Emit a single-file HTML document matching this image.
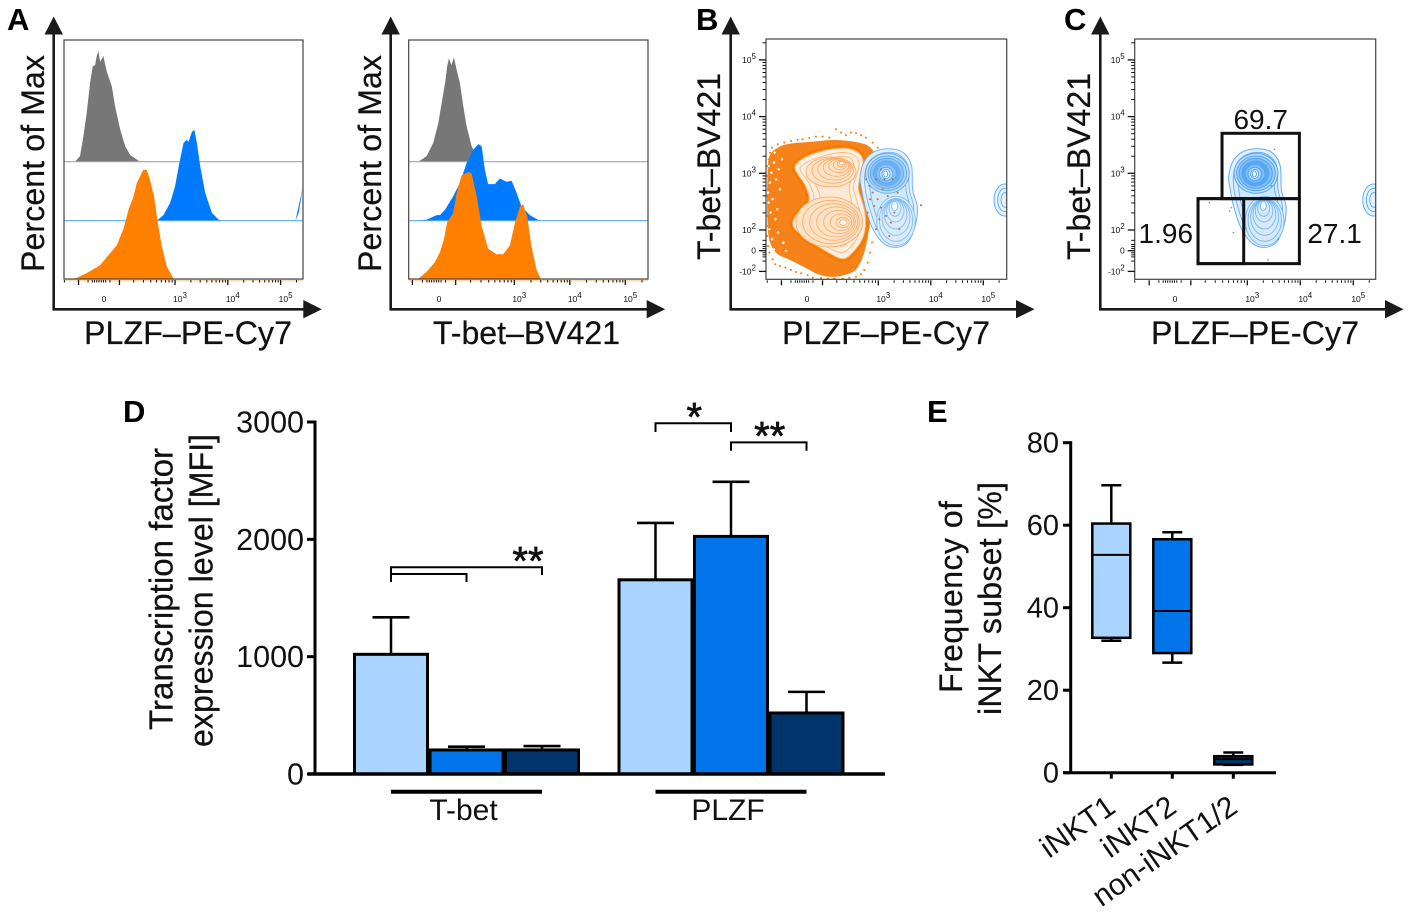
<!DOCTYPE html>
<html lang="en">
<head>
<meta charset="utf-8">
<title>iNKT transcription factor figure</title>
<style>
html,body{margin:0;padding:0;background:#fff;width:1411px;height:914px;overflow:hidden}
svg{display:block}
text{font-family:"Liberation Sans",sans-serif;fill:#111}
.title{font-size:32px;stroke:#111;stroke-width:.25px}
.title-tall{font-size:33px;stroke:#111;stroke-width:.25px}
.letter{font-size:31px;font-weight:bold;fill:#000}
</style>
</head>
<body>
<svg id="fig" xmlns="http://www.w3.org/2000/svg" width="1411" height="914" viewBox="0 0 1411 914">
<rect x="0" y="0" width="1411" height="914" fill="#fff"/>
<defs>
<clipPath id="clipB"><rect x="766" y="39" width="240.7" height="240.3"/></clipPath>
<clipPath id="clipC"><rect x="1134.7" y="39" width="241" height="240.3"/></clipPath>
<clipPath id="clipA1"><rect x="64" y="40" width="239" height="239"/></clipPath>
<clipPath id="clipA2"><rect x="408.7" y="40" width="239.3" height="239"/></clipPath>
</defs>

<g id="panelA1"></g>
<g id="panelA2"></g>
<g id="panelB"></g>
<g id="panelC"></g>
<g id="panelD"></g>
<g id="panelE"></g>

<text class="letter" x="7" y="30">A</text>
<text class="letter" x="696" y="30">B</text>
<text class="letter" x="1064" y="30">C</text>
<text class="letter" x="123" y="422">D</text>
<text class="letter" x="927" y="422">E</text>

<text class="title" transform="translate(44,272) rotate(-90)" textLength="217">Percent of Max</text>
<text class="title" transform="translate(381,272) rotate(-90)" textLength="217">Percent of Max</text>
<text class="title" transform="translate(720,260) rotate(-90)" textLength="187">T-bet–BV421</text>
<text class="title" transform="translate(1090,260) rotate(-90)" textLength="187">T-bet–BV421</text>
<text class="title" x="84" y="344" textLength="208">PLZF–PE-Cy7</text>
<text class="title" x="433" y="344" textLength="187">T-bet–BV421</text>
<text class="title" x="782" y="344" textLength="208">PLZF–PE-Cy7</text>
<text class="title" x="1151" y="344" textLength="208">PLZF–PE-Cy7</text>

<text class="title-tall" transform="translate(172.5,730) rotate(-90)" textLength="282" lengthAdjust="spacingAndGlyphs">Transcription factor</text>
<text class="title-tall" transform="translate(212.5,747) rotate(-90)" textLength="313" lengthAdjust="spacingAndGlyphs">expression level [MFI]</text>
<text class="title" transform="translate(962,693) rotate(-90)" textLength="192">Frequency of</text>
<text class="title" transform="translate(1001,715) rotate(-90)" textLength="233">iNKT subset [%]</text>
</svg>

<script>
/* ---------- Panel A histogram data: channel 0-1000, count in % of max ---------- */
var plzfGrayChannels=[46,67,81,95,109,120,130,137,144,151,165,179,200,214,235,256,277,318];
var plzfGrayCounts=[0,5,23,44,71,86,87,95,100,90,95,81,68,50,29,14,6,0];
var plzfBlueChannels=[388,416,444,465,480,500,514,521,535,545,556,570,591,619,647,668];
var plzfBlueCounts=[0,5,16,31,49,70,73,71,80,82,70,49,25,7,1,0];
var plzfBlueTailChannels=[968,982,1000];
var plzfBlueTailCounts=[0,7,31];
var plzfOrangeChannels=[46,95,151,193,221,249,270,291,304,318,332,346,360,377,391,409,430,458];
var plzfOrangeCounts=[0,5,12,23,30,45,62,74,86,92,98,98,89,74,53,29,11,0];

var tbetGrayChannels=[40,75,103,124,138,152,161,168,179,189,200,214,228,242,263,284,298];
var tbetGrayCounts=[0,5,17,35,53,71,86,93,87,94,83,71,50,32,14,5,0];
var tbetBlueChannels=[19,75,117,131,152,186,214,242,270,291,305,318,332,360,381,409,430,451,471,506,548];
var tbetBlueCounts=[0,1,5,5,10,22,34,52,64,69,67,46,33,33,38,35,36,25,13,5,0];
var tbetOrangeChannels=[40,75,110,131,147,161,186,200,221,249,263,284,305,332,367,395,423,444,465,478,495,513,534,551];
var tbetOrangeCounts=[0,6,15,24,35,51,59,77,93,96,95,74,47,27,22,22,30,50,65,67,56,29,8,0];

/* ---------- Flow-axis tick values ---------- */
var flowMajorTicksX=[-100,100,1000,10000,100000];
var flowMinorTicksX=[-200,-50,-30,-20,-10,0,10,20,30,50,200,300,400,500,600,700,800,900,2000,3000,4000,5000,6000,7000,8000,9000,20000,30000,40000,50000,60000,70000,80000,90000,200000];
var flowLabelValuesX=[0,1000,10000,100000];
var flowLabelBasesX=['0','10','10','10'];
var flowLabelExpsX=['','3','4','5'];
var flowMajorTicksY=[-100,0,100,1000,10000,100000];
var flowMinorTicksY=[-50,-30,-20,-10,10,20,30,50,200,300,400,500,600,700,800,900,2000,3000,4000,5000,6000,7000,8000,9000,20000,30000,40000,50000,60000,70000,80000,90000,200000];
var flowLabelValuesY=[100000,10000,1000,100,0,-100];
var flowLabelBasesY=['10','10','10','10','0','-10'];
var flowLabelExpsY=['5','4','3','2','','2'];

/* ---------- Panel B/C populations: channels 0-722 on both axes ---------- */
var orangeCloudX=[10,42,82,142,202,262,302,322,317,302,287,297,312,307,297,282,262,212,162,112,72,32,10,4,4];
var orangeCloudY=[368,398,408,413,418,413,403,383,358,328,278,238,188,138,88,48,23,8,13,38,58,78,118,188,288];
var orangePaleX=[87,112,162,222,262,287,290,277,287,297,297,282,247,222,182,142,107,82,87,117,130,117,97];
var orangePaleY=[338,363,383,393,388,368,338,278,238,198,148,108,68,63,83,108,133,158,188,218,243,283,313];
var orangeRing1X=[102,127,172,222,257,277,277,262,272,282,282,267,237,212,172,132,102,102,132,144,132,112];
var orangeRing1Y=[333,353,370,380,376,358,328,278,238,198,148,113,83,83,103,128,153,183,213,243,283,313];
var orangeRing2X=[122,152,192,232,257,264,250,257,267,267,252,227,197,152,122,127,157,162,147,130];
var orangeRing2Y=[333,350,363,368,360,328,278,233,188,148,118,98,113,138,158,183,213,248,288,313];
var orangeUpperCx=[195,200,205,212,218,222,226,227];
var orangeUpperCy=[322,326,330,335,340,343,346,348];
var orangeUpperRx=[75,62,50,40,30,20,12,7];
var orangeUpperRy=[45,38,32,26,20,14,9,5];
var orangeLowerCx=[190,195,203,210,218,225,230,232];
var orangeLowerCy=[172,172,172,172,172,171,170,170];
var orangeLowerRx=[100,85,72,58,45,32,20,11];
var orangeLowerRy=[75,65,55,45,35,25,15,8];
var orangeDotsX=[210,225,190,170,240,255,270,285,300,150,130,110,95,75,55,35,18,12,8,320,335,330,340,3,2,6,3,8,2,5,3,6,10,20,28,42,58,75,90,105,125,140,165,185,205,230,250,270,285,295,305,312,318,300,310,320,335,345,360,375,385,340,325,350,365,330,345,355,312,305,330,370,395,380,400,465];
var orangeDotsY=[450,440,425,428,432,440,438,432,425,428,424,420,418,415,410,405,395,380,360,410,395,375,360,340,310,270,250,220,190,160,130,100,80,60,45,40,35,28,22,18,12,5,4,2,3,2,5,8,15,28,50,80,110,300,280,260,240,215,190,170,200,180,220,270,250,300,330,300,240,200,150,130,260,300,150,222];
var speckleX=[8,16,24,12,30,6,20,38,14,28,10,42,18,34,9,24,48,14,36,22,52,46,60,8,26];
var speckleY=[340,320,350,290,300,260,240,330,200,180,150,270,120,210,100,90,360,70,140,60,110,60,85,230,380];
var blueOuterX=[282,297,332,382,417,437,440,454,447,422,382,347,317,297,287];
var blueOuterY=[308,358,386,391,376,338,268,218,158,108,96,113,158,218,268];
var blueRing2X=[296,308,338,380,410,427,430,443,437,415,382,352,327,308,298];
var blueRing2Y=[310,350,375,380,365,335,268,218,160,118,106,122,165,222,268];
var blueRing3X=[310,320,345,380,402,417,420,432,425,405,382,358,338,320,312];
var blueRing3Y=[312,345,365,370,355,330,268,215,165,128,116,132,172,225,270];
var blueUpperCx=[364,364,363,362,361,360,360,359];
var blueUpperCy=[318,318,318,318,317,316,316,316];
var blueUpperRx=[66,58,50,40,30,20,12,6];
var blueUpperRy=[60,52,45,37,28,20,14,9];
var blueLowerCx=[390,390,390,389,388,387,386];
var blueLowerCy=[175,178,186,195,205,213,220];
var blueLowerRx=[58,50,42,34,26,18,9];
var blueLowerRy=[74,64,54,44,33,24,14];
var edgeRingCx=[717,717,717];
var edgeRingCy=[238,238,238];
var edgeRingRx=[33,22,12];
var edgeRingRy=[48,35,22];
var gatedDotsX=[224,290,296,285,400,410,430,420];
var gatedDotsY=[230,215,140,205,58,280,120,390];

/* ---------- Panel C gate boundaries (channels) and frequencies ---------- */
var gateXLow=[262,190,190];
var gateXHigh=[494,327,494];
var gateYLow=[242,47,47];
var gateYHigh=[438,242,242];
var gateLabels=['69.7','1.96','27.1'];

/* ---------- Panel D bar data ---------- */
var barCategories=['T-bet','PLZF'];
var subsetColors=['#a9d4ff','#0074e8','#00346b'];
var tbetMeans=[1020,205,205];
var tbetUpper=[1335,233,238];
var plzfMeans=[1655,2025,520];
var plzfUpper=[2140,2490,700];
var barYTicks=[0,1000,2000,3000];
var sigGroup=[0,0,1,1];
var sigFrom=[0,0,0,1];
var sigTo=[1,2,1,2];
var sigLevel=[1705,1762,2989,2826];
var sigDropLeft=[1636,1636,2915,2755];
var sigDropRight=[1636,1696,2915,2755];
var sigLabels=['','**','*','**'];

/* ---------- Panel E box data ---------- */
var boxCategories=['iNKT1','iNKT2','non-iNKT1/2'];
var boxMin=[32,26.7,1.9];
var boxQ1=[32.7,29,2];
var boxMedian=[52.8,39.2,3.3];
var boxQ3=[60.4,56.6,4];
var boxMax=[69.7,58.3,4.9];
var boxColors=['#a9d4ff','#0074e8','#00346b'];
var boxYTicks=[0,20,40,60,80];

/* ---------- helpers ---------- */
var NS='http://www.w3.org/2000/svg';
function mk(tag,attrs,parent){
  var el=document.createElementNS(NS,tag);
  for(var k in attrs){el.setAttribute(k,attrs[k]);}
  parent.appendChild(el);
  return el;
}
function byId(id){return document.getElementById(id);}
function closedCurve(xs,ys,sx,sy){
  var n=xs.length,d='M'+sx(xs[0]).toFixed(1)+' '+sy(ys[0]).toFixed(1);
  for(var i=0;i<n;i++){
    var i0=(i-1+n)%n,i2=(i+1)%n,i3=(i+2)%n;
    var c1x=sx(xs[i])+(sx(xs[i2])-sx(xs[i0]))/6,c1y=sy(ys[i])+(sy(ys[i2])-sy(ys[i0]))/6;
    var c2x=sx(xs[i2])-(sx(xs[i3])-sx(xs[i]))/6,c2y=sy(ys[i2])-(sy(ys[i3])-sy(ys[i]))/6;
    d+='C'+c1x.toFixed(1)+' '+c1y.toFixed(1)+' '+c2x.toFixed(1)+' '+c2y.toFixed(1)+' '+sx(xs[i2]).toFixed(1)+' '+sy(ys[i2]).toFixed(1);
  }
  return d+'Z';
}

/* ---------- shared flow axes ---------- */
function flowX(v,a){
  if(v>=1000){return a.x3+a.dec*(Math.log10(v)-3);}
  return a.x0+(a.x3-a.x0)*Math.asinh(v/120)/Math.asinh(1000/120);
}
function flowY(v){
  if(v>=100){return 230-56.7*(Math.log10(v)-2);}
  return 250.7-v*0.207;
}
function drawFrameAndArrows(g,a){
  var frame=mk('rect',{x:a.left,y:a.top,width:a.right-a.left,height:a.bottom-a.top,fill:'none',stroke:'#444','stroke-width':1.2},g);
  
  
  var v=mk('line',{x1:a.axisX,x2:a.axisX,y1:30,y2:310.5,stroke:'#1a1a1a','stroke-width':2.6},g);
  
  
  var h=mk('line',{x1:a.axisX-1,x2:a.arrowBase+2,y1:309.3,y2:309.3,stroke:'#1a1a1a','stroke-width':2.6},g);
  
  
  var t=mk('polygon',{points:(a.axisX)+',16.5 '+(a.axisX-9.2)+',34.5 '+(a.axisX+9.2)+',34.5',fill:'#1a1a1a'},g);
  
  
  var r=mk('polygon',{points:a.arrowBase+',300 '+(a.arrowBase+18.5)+',309.3 '+a.arrowBase+',318.4',fill:'#1a1a1a'},g);
  
  
}
function drawFlowXTicks(g,a){
  var i,x,el;
  for(i=0;i<flowMajorTicksX.length;i++){
    x=flowX(flowMajorTicksX[i],a);
    if(x<a.left||x>a.right)continue;
    el=mk('line',{x1:x,x2:x,y1:a.bottom+1,y2:a.bottom+6,stroke:'#111','stroke-width':1.3},g);
    
    
  }
  for(i=0;i<flowMinorTicksX.length;i++){
    x=flowX(flowMinorTicksX[i],a);
    if(x<a.left||x>a.right)continue;
    el=mk('line',{x1:x,x2:x,y1:a.bottom+1,y2:a.bottom+3.5,stroke:'#111','stroke-width':1},g);
    
    
  }
  for(i=0;i<flowLabelValuesX.length;i++){
    x=flowX(flowLabelValuesX[i],a)+5;
    el=mk('text',{x:x,y:302,'text-anchor':'middle','font-size':8.5},g);
    
    
    el.textContent=flowLabelBasesX[i];
    if(flowLabelExpsX[i]){
      var s=mk('tspan',{dy:-4,'font-size':8},el);
      s.textContent=flowLabelExpsX[i];
    }
  }
}
function drawFlowYTicks(g,a){
  var i,y,el;
  for(i=0;i<flowMajorTicksY.length;i++){
    y=flowY(flowMajorTicksY[i]);
    el=mk('line',{x1:a.left-7,x2:a.left,y1:y,y2:y,stroke:'#111','stroke-width':1.3},g);
    
    
  }
  for(i=0;i<flowMinorTicksY.length;i++){
    y=flowY(flowMinorTicksY[i]);
    if(y<a.top)continue;
    el=mk('line',{x1:a.left-3.5,x2:a.left,y1:y,y2:y,stroke:'#111','stroke-width':1},g);
    
    
  }
  for(i=0;i<flowLabelValuesY.length;i++){
    y=flowY(flowLabelValuesY[i])+3;
    el=mk('text',{x:a.left-10,y:y,'text-anchor':'end','font-size':8.5},g);
    
    
    el.textContent=flowLabelBasesY[i];
    if(flowLabelExpsY[i]){
      var s=mk('tspan',{dy:-4,'font-size':8},el);
      s.textContent=flowLabelExpsY[i];
    }
  }
}

/* ---------- Panel A ---------- */
function drawHistogram(g,a,channels,counts,baseY,fill,name){
  var sx=function(c){return a.left+c/1000*(a.right-a.left);};
  var sy=function(c){return baseY-c*1.11;};
  var pts=[];
  for(var i=0;i<channels.length;i++){pts.push(sx(channels[i]).toFixed(1)+','+sy(counts[i]).toFixed(1));}
  var el=mk('polygon',{points:pts.join(' '),fill:fill},g);
  
  
}
function drawBaseline(g,a,y,color,name){
  var el=mk('line',{x1:a.left,x2:a.right,y1:y,y2:y,stroke:color,'stroke-width':1.1},g);
  
  
}
function drawHistPanel(g,a,grayC,grayV,blueC,blueV,orC,orV){
  var strip=mk('rect',{x:a.left,y:a.bottom+0.5,width:a.right-a.left,height:2,fill:'#fbdcb6'},g);
  
  
  drawHistogram(g,a,grayC,grayV,161.7,'#777777','gray-control-histogram');
  drawBaseline(g,a,161.7,'#a6a6a6','gray-histogram-baseline');
  drawHistogram(g,a,blueC,blueV,220.7,'#007bff','blue-histogram');
  drawBaseline(g,a,220.7,'#5aabf5','blue-histogram-baseline');
  if(a.tailC){drawHistogram(g,a,a.tailC,a.tailV,220.7,'#007bff','blue-histogram-edge-events');}
  drawHistogram(g,a,orC,orV,278.6,'#ff7f00','orange-histogram');
  drawFrameAndArrows(g,a);
  drawFlowXTicks(g,a);
}
var layoutA1={left:64,right:303,top:40,bottom:279,axisX:53.7,arrowBase:303.3,x0:99,x3:175,dec:52.8,tailC:plzfBlueTailChannels,tailV:plzfBlueTailCounts};
var layoutA2={left:408.7,right:648,top:40,bottom:279,axisX:390.7,arrowBase:646.7,x0:434,x3:514.3,dec:55.5};
drawHistPanel(byId('panelA1'),layoutA1,plzfGrayChannels,plzfGrayCounts,plzfBlueChannels,plzfBlueCounts,plzfOrangeChannels,plzfOrangeCounts);
drawHistPanel(byId('panelA2'),layoutA2,tbetGrayChannels,tbetGrayCounts,tbetBlueChannels,tbetBlueCounts,tbetOrangeChannels,tbetOrangeCounts);

/* ---------- Panels B, C ---------- */
function drawEllipses(g,cx,cy,rx,ry,sx,sy,k,stroke,sw,fill,name){
  for(var i=0;i<cx.length;i++){
    var el=mk('ellipse',{cx:sx(cx[i]),cy:sy(cy[i]),rx:rx[i]*k,ry:ry[i]*k,fill:fill?fill(i):'none',stroke:stroke,'stroke-width':sw},g);
    
    
  }
}
function drawBluePopulation(g,sx,sy,k){
  var outer=mk('path',{d:closedCurve(blueOuterX,blueOuterY,sx,sy),fill:'#e2f0fd',stroke:'#63aef3','stroke-width':1},g);
  
  
  var r2=mk('path',{d:closedCurve(blueRing2X,blueRing2Y,sx,sy),fill:'#d8ebfc',stroke:'#63aef3','stroke-width':0.9},g);
  
  
  var r3=mk('path',{d:closedCurve(blueRing3X,blueRing3Y,sx,sy),fill:'#cee6fb',stroke:'#63aef3','stroke-width':0.9},g);
  
  
  drawEllipses(g,blueLowerCx,blueLowerCy,blueLowerRx,blueLowerRy,sx,sy,k,'#74b7f4',0.9,function(i){return i===6?'#f0f7fe':'#d6eafc';},'blue-lower-contour');
  var upperFills=['#b9dafa','#9fcdf8','#7dbcf6','#5aa9f3','#7cbcf6','#b3d8fa','#dcecfd','#ffffff'];
  drawEllipses(g,blueUpperCx,blueUpperCy,blueUpperRx,blueUpperRy,sx,sy,k,'#4ea3f2',0.9,function(i){return upperFills[i];},'blue-upper-contour');
}
function drawEdgeEvents(g,sx,sy,k){
  drawEllipses(g,edgeRingCx,edgeRingCy,edgeRingRx,edgeRingRy,sx,sy,k,'#63aef3',1,function(){return '#e6f2fd';},'blue-edge-contour');
}
var layoutB={left:766,right:1006.7,top:39,bottom:279.3,axisX:730.7,arrowBase:1016,x0:802,x3:878.3,dec:52.5};
var layoutC={left:1134.7,right:1375.7,top:39,bottom:279.3,axisX:1100.3,arrowBase:1385,x0:1170,x3:1247.3,dec:53};
function chanX(a){return function(c){return a.left+c/3;};}
function chanY(a){return function(c){return a.bottom-c/3;};}

(function(){
  var g=byId('panelB'),a=layoutB,sx=chanX(a),sy=chanY(a),k=1/3;
  var body=mk('g',{'clip-path':'url(#clipB)'},g);
  
  
  var cloud=mk('path',{d:closedCurve(orangeCloudX,orangeCloudY,sx,sy),fill:'#f6831a'},body);
  
  
  var i,dot;
  for(i=0;i<speckleX.length;i++){
    dot=mk('circle',{cx:sx(speckleX[i]),cy:sy(speckleY[i]),r:1.2,fill:'#fff'},body);
    
    
  }
  for(i=0;i<orangeDotsX.length;i++){
    dot=mk('circle',{cx:sx(orangeDotsX[i]),cy:sy(orangeDotsY[i]),r:1,fill:'#f57c00'},body);
    
    
  }
  var pale=mk('path',{d:closedCurve(orangePaleX,orangePaleY,sx,sy),fill:'#fde6cf',stroke:'#f57c00','stroke-width':7},body);
  
  
  var p2=mk('path',{d:closedCurve(orangePaleX,orangePaleY,sx,sy),fill:'#fdf0e2',stroke:'#f8b87c','stroke-width':1},body);
  
  
  var r1=mk('path',{d:closedCurve(orangeRing1X,orangeRing1Y,sx,sy),fill:'#fdeedd',stroke:'#f8b87c','stroke-width':0.9},body);
  
  
  var r2=mk('path',{d:closedCurve(orangeRing2X,orangeRing2Y,sx,sy),fill:'#fde9d3',stroke:'#f8b87c','stroke-width':0.9},body);
  
  
  var oFill=function(i){return i===7?'#fff':'#fde2c6';};
  drawEllipses(body,orangeUpperCx,orangeUpperCy,orangeUpperRx,orangeUpperRy,sx,sy,k,'#f8b070',0.9,oFill,'orange-upper-contour');
  drawEllipses(body,orangeLowerCx,orangeLowerCy,orangeLowerRx,orangeLowerRy,sx,sy,k,'#f8b070',0.9,oFill,'orange-lower-contour');
  var holder=mk('g',{opacity:0.9},body);
  
  
  drawBluePopulation(holder,sx,sy,k);
  for(i=53;i<orangeDotsX.length;i++){
    dot=mk('circle',{cx:sx(orangeDotsX[i]),cy:sy(orangeDotsY[i]),r:1,fill:'#b5793f'},body);
    
    
  }
  drawEdgeEvents(body,sx,sy,k);
  drawFrameAndArrows(g,a);
  drawFlowXTicks(g,a);
  drawFlowYTicks(g,a);
})();

(function(){
  var g=byId('panelC'),a=layoutC,sx=chanX(a),sy=chanY(a),k=1/3;
  var body=mk('g',{'clip-path':'url(#clipC)'},g);
  
  
  drawBluePopulation(body,sx,sy,k);
  drawEdgeEvents(body,sx,sy,k);
  for(var i=0;i<gatedDotsX.length;i++){
    var dot=mk('circle',{cx:sx(gatedDotsX[i]),cy:sy(gatedDotsY[i]),r:0.8,fill:'#3f9bf1'},body);
    
    
  }
  drawFrameAndArrows(g,a);
  drawFlowXTicks(g,a);
  drawFlowYTicks(g,a);
  var gateNames=['gate-upper','gate-lower-left','gate-lower-right'];
  for(var j=0;j<gateLabels.length;j++){
    var r=mk('rect',{x:sx(gateXLow[j]),y:sy(gateYHigh[j]),width:sx(gateXHigh[j])-sx(gateXLow[j]),height:sy(gateYLow[j])-sy(gateYHigh[j]),fill:'none',stroke:'#111','stroke-width':3},g);
    
    
  }
  var lx=[sx(gateXLow[0]+116),sx(gateXLow[1])-5,sx(gateXHigh[2])+8];
  var ly=[129,243,243];
  var la=['middle','end','start'];
  for(var m=0;m<gateLabels.length;m++){
    var t=mk('text',{x:lx[m],y:ly[m],'text-anchor':la[m],'font-size':28},g);
    
    
    t.textContent=gateLabels[m];
  }
})();

/* ---------- Panel D ---------- */
(function(){
  var g=byId('panelD');
  var yD=function(v){return 774-v*352/3000;};
  var xD=function(gr,i){return 391+gr*264.5+i*75.5;};
  var means=[tbetMeans,plzfMeans],uppers=[tbetUpper,plzfUpper];
  var gr,i,el;
  for(gr=0;gr<2;gr++){
    for(i=0;i<3;i++){
      var cx=xD(gr,i);
      el=mk('line',{x1:cx,x2:cx,y1:yD(uppers[gr][i]),y2:yD(means[gr][i]),stroke:'#000','stroke-width':2.5},g);
      
      
      el=mk('line',{x1:cx-18.5,x2:cx+18.5,y1:yD(uppers[gr][i]),y2:yD(uppers[gr][i]),stroke:'#000','stroke-width':2.6},g);
      
      
      el=mk('rect',{x:cx-36.5,y:yD(means[gr][i]),width:73,height:yD(0)-yD(means[gr][i]),fill:subsetColors[i],stroke:'#000','stroke-width':3},g);
      
      
    }
    el=mk('line',{x1:xD(gr,0),x2:xD(gr,2),y1:791.7,y2:791.7,stroke:'#000','stroke-width':4},g);
    
    
    el=mk('text',{x:xD(gr,1)-3,y:820,'text-anchor':'middle','font-size':30},g);
    
    
    el.textContent=barCategories[gr];
  }
  el=mk('line',{x1:315,x2:315,y1:yD(3000)-1.5,y2:yD(0),stroke:'#000','stroke-width':3},g);
  
  
  el=mk('line',{x1:308,x2:885,y1:yD(0),y2:yD(0),stroke:'#000','stroke-width':3.6},g);
  
  
  for(i=0;i<barYTicks.length;i++){
    el=mk('line',{x1:307,x2:315,y1:yD(barYTicks[i]),y2:yD(barYTicks[i]),stroke:'#000','stroke-width':3},g);
    
    
    el=mk('text',{x:304,y:yD(barYTicks[i])+10.5,'text-anchor':'end','font-size':30.5},g);
    
    
    el.textContent=String(barYTicks[i]);
  }
  for(i=0;i<sigLevel.length;i++){
    var x1=xD(sigGroup[i],sigFrom[i]),x2=xD(sigGroup[i],sigTo[i]);
    var d='M'+x1+' '+yD(sigDropLeft[i])+'V'+yD(sigLevel[i])+'H'+x2+'V'+yD(sigDropRight[i]);
    el=mk('path',{d:d,fill:'none',stroke:'#000','stroke-width':2},g);
    
    
    if(sigLabels[i]){
      var tx=sigLabels[i]==='**'&&sigGroup[i]===0?x2-14:(x1+x2)/2+1;
      el=mk('text',{x:tx,y:yD(sigLevel[i])+7,'text-anchor':'middle','font-size':40,stroke:'#111','stroke-width':0.7},g);
      
      
      el.textContent=sigLabels[i];
    }
  }
})();

/* ---------- Panel E ---------- */
(function(){
  var g=byId('panelE');
  var yE=function(v){return 772.7-v*4.125;};
  var xE=function(i){return 1111.3+i*61;};
  var i,el;
  for(i=0;i<boxCategories.length;i++){
    var cx=xE(i);
    el=mk('line',{x1:cx,x2:cx,y1:yE(boxMax[i]),y2:yE(boxMin[i]),stroke:'#000','stroke-width':2.5},g);
    
    
    el=mk('line',{x1:cx-10,x2:cx+10,y1:yE(boxMax[i]),y2:yE(boxMax[i]),stroke:'#000','stroke-width':2.5},g);
    
    
    el=mk('line',{x1:cx-10,x2:cx+10,y1:yE(boxMin[i]),y2:yE(boxMin[i]),stroke:'#000','stroke-width':2.5},g);
    
    
    el=mk('rect',{x:cx-19,y:yE(boxQ3[i]),width:38,height:yE(boxQ1[i])-yE(boxQ3[i]),fill:boxColors[i],stroke:'#000','stroke-width':2.5},g);
    
    
    el=mk('line',{x1:cx-19,x2:cx+19,y1:yE(boxMedian[i]),y2:yE(boxMedian[i]),stroke:'#000','stroke-width':2},g);
    
    
    el=mk('line',{x1:cx,x2:cx,y1:yE(0),y2:yE(0)+6,stroke:'#000','stroke-width':3},g);
    
    
    el=mk('text',{transform:'translate('+(cx+6)+',811) rotate(-35)','text-anchor':'end','font-size':30},g);
    
    
    el.textContent=boxCategories[i];
  }
  el=mk('line',{x1:1070.7,x2:1070.7,y1:yE(80)-1.5,y2:yE(0),stroke:'#000','stroke-width':3},g);
  
  
  el=mk('line',{x1:1063,x2:1276,y1:yE(0),y2:yE(0),stroke:'#000','stroke-width':3},g);
  
  
  for(i=0;i<boxYTicks.length;i++){
    el=mk('line',{x1:1063,x2:1070.7,y1:yE(boxYTicks[i]),y2:yE(boxYTicks[i]),stroke:'#000','stroke-width':3},g);
    
    
    el=mk('text',{x:1059,y:yE(boxYTicks[i])+10,'text-anchor':'end','font-size':29},g);
    
    
    el.textContent=String(boxYTicks[i]);
  }
})();
</script>
</body>
</html>
